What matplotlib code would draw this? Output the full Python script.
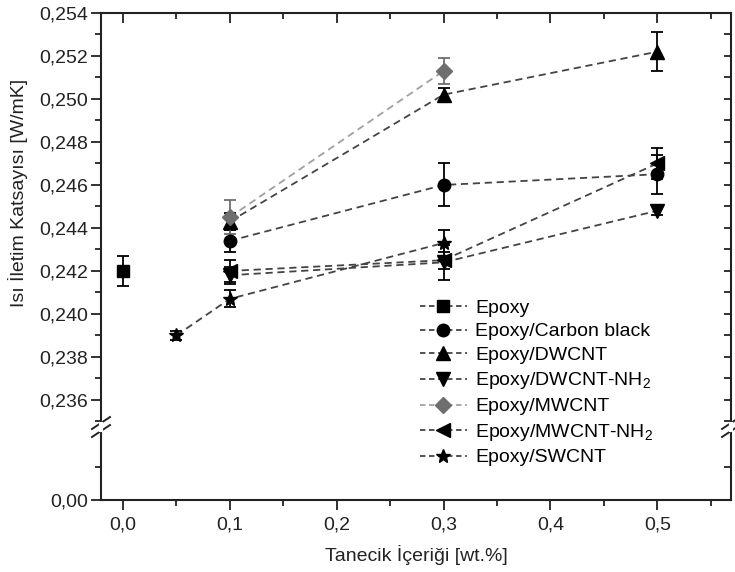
import matplotlib
matplotlib.use('Agg')
import matplotlib.pyplot as plt
from matplotlib.ticker import FixedLocator, FuncFormatter
from matplotlib.lines import Line2D

plt.rcParams['font.family'] = ['Liberation Sans', 'DejaVu Sans']
plt.rcParams['mathtext.fontset'] = 'custom'
plt.rcParams['mathtext.rm'] = 'Liberation Sans'

# ---- data ----
labels = ['Epoxy', 'Epoxy/Carbon black', 'Epoxy/DWCNT', 'Epoxy/DWCNT-NH$_\\mathregular{2}$',
          'Epoxy/MWCNT', 'Epoxy/MWCNT-NH$_\\mathregular{2}$', 'Epoxy/SWCNT']

x_epoxy = [0.0]
y_epoxy = [0.2420]
e_epoxy = [0.0007]

x_cb = [0.1, 0.3, 0.5]
y_cb = [0.2434, 0.2460, 0.2465]
e_cb = [0.0005, 0.0010, 0.0009]

x_dw = [0.1, 0.3, 0.5]
y_dw = [0.2443, 0.2502, 0.2522]
e_dw = [0.0004, 0.0003, 0.0009]

x_dwn = [0.1, 0.3, 0.5]
y_dwn = [0.2418, 0.2424, 0.2448]
e_dwn = [0.0004, 0.0008, 0.0002]

x_mw = [0.1, 0.3]
y_mw = [0.2445, 0.2513]
e_mw = [0.0008, 0.0006]

x_mwn = [0.1, 0.3, 0.5]
y_mwn = [0.2420, 0.2425, 0.2470]
e_mwn = [0.0005, 0.0004, 0.0007]

x_sw = [0.05, 0.1, 0.3]
y_sw = [0.2390, 0.2407, 0.2433]
e_sw = [0.0002, 0.0004, 0.0006]

xticks = [0.0, 0.1, 0.2, 0.3, 0.4, 0.5]
yticks_top = [0.236, 0.238, 0.240, 0.242, 0.244, 0.246, 0.248, 0.250, 0.252, 0.254]

series = [
    (x_epoxy, y_epoxy, e_epoxy, 's', 'black', '#444444', 8.5),
    (x_cb, y_cb, e_cb, 'o', 'black', '#444444', 9),
    (x_dw, y_dw, e_dw, '^', 'black', '#444444', 10),
    (x_dwn, y_dwn, e_dwn, 'v', 'black', '#444444', 10),
    (x_mw, y_mw, e_mw, 'D', '#6e6e6e', '#a0a0a0', 8),
    (x_mwn, y_mwn, e_mwn, '<', 'black', '#444444', 10),
    (x_sw, y_sw, e_sw, '*', 'black', '#444444', 10),
]

W, H = 735, 572
fig = plt.figure(figsize=(W / 100, H / 100), dpi=100)

left = 101 / W
width = (731 - 101) / W
top_px, brk_px, bot_px = 13, 427, 500
ax = fig.add_axes([left, (H - brk_px) / H, width, (brk_px - top_px) / H])
axb = fig.add_axes([left, (H - bot_px) / H, width, (bot_px - brk_px) / H])

xlim = (-0.0205, 0.569)
fs = 14

handles = []
for (xs, ys, es, m, mc, lc, ms), lab in zip(series, labels):
    ax.plot(xs, ys, linestyle=(0, (4, 2.6)), color=lc, lw=1.3, zorder=2)
    ax.errorbar(xs, ys, yerr=es, fmt='none', ecolor=mc, elinewidth=1.3,
                capsize=4.5, capthick=1.3, zorder=3)
    ax.plot(xs, ys, linestyle='none', marker=m, markersize=ms, color=mc,
            markeredgecolor=mc, zorder=4)
    handles.append(Line2D([], [], linestyle=(0, (3, 2)), color=lc, lw=1.3,
                          marker=m, markersize=ms, markerfacecolor=mc,
                          markeredgecolor=mc, label=lab))

ax.set_xlim(*xlim)
ax.set_ylim(0.23474, 0.254)
axb.set_xlim(*xlim)
axb.set_ylim(0, 1)

fmt = FuncFormatter(lambda v, p: ('%.3f' % v).replace('.', ','))
ax.yaxis.set_major_locator(FixedLocator(yticks_top))
ax.yaxis.set_minor_locator(FixedLocator([0.235 + 0.002 * i for i in range(10)]))
ax.yaxis.set_major_formatter(fmt)
axb.yaxis.set_major_locator(FixedLocator([0.0]))
axb.yaxis.set_minor_locator(FixedLocator([0.45]))
axb.yaxis.set_major_formatter(FuncFormatter(lambda v, p: '0,00'))

axb.xaxis.set_major_locator(FixedLocator(xticks))
axb.xaxis.set_minor_locator(FixedLocator([0.05, 0.15, 0.25, 0.35, 0.45, 0.55]))
axb.xaxis.set_major_formatter(FuncFormatter(lambda v, p: ('%.1f' % v).replace('.', ',')))
ax.xaxis.set_major_locator(FixedLocator(xticks))
ax.xaxis.set_minor_locator(FixedLocator([0.05, 0.15, 0.25, 0.35, 0.45, 0.55]))

for a in (ax, axb):
    for s in a.spines.values():
        s.set_linewidth(1.5)
        s.set_color('#222222')
ax.spines['bottom'].set_visible(False)
axb.spines['top'].set_visible(False)

# upper axes: left ticks out, right ticks in, top ticks in, no bottom ticks
ax.tick_params(axis='y', which='both', left=True, right=False, labelsize=fs,
               direction='out', width=1.3, colors='#222222')
ax.tick_params(axis='y', which='major', length=7, pad=2)
ax.tick_params(axis='y', which='minor', length=4.5)
ax.tick_params(axis='x', which='both', bottom=False, top=True, labelbottom=False,
               direction='in', width=1.3, colors='#222222')
ax.tick_params(axis='x', which='major', length=7)
ax.tick_params(axis='x', which='minor', length=4)

axb.tick_params(axis='y', which='both', left=True, labelsize=fs,
                direction='out', width=1.3, colors='#222222')
axb.tick_params(axis='y', which='major', length=7, pad=2)
axb.tick_params(axis='y', which='minor', length=4.5)
axb.tick_params(axis='x', which='both', bottom=True, top=False, labelsize=fs,
                direction='out', width=1.3, colors='#222222')
axb.tick_params(axis='x', which='major', length=7, pad=5)
axb.tick_params(axis='x', which='minor', length=4)

# right-side inward ticks via twin axes
axr = ax.twinx()
axr.set_ylim(ax.get_ylim())
axr.yaxis.set_major_locator(FixedLocator([0.235 + 0.001 * i for i in range(20)]))
axr.yaxis.set_minor_locator(FixedLocator([]))
axr.tick_params(axis='y', which='both', direction='in', length=5, width=1.3,
                labelright=False, colors='#222222')
for s in axr.spines.values():
    s.set_visible(False)
axbr = axb.twinx()
axbr.set_ylim(axb.get_ylim())
axbr.yaxis.set_major_locator(FixedLocator([0.45]))
axbr.tick_params(axis='y', which='both', direction='in', length=5, width=1.3,
                 labelright=False, colors='#222222')
for s in axbr.spines.values():
    s.set_visible(False)

# break marks
for xb in (101, 731):
    for dy in (-4, 4):
        yb = brk_px + dy
        fig.add_artist(Line2D([(xb - 9) / W, (xb + 9) / W],
                              [(H - yb - 6) / H, (H - yb + 6) / H],
                              color='#222222', lw=1.4))
    fig.add_artist(Line2D([xb / W, xb / W], [(H - brk_px - 3) / H, (H - brk_px + 3) / H],
                          color='white', lw=3))

ax.set_ylabel('Isı İletim Katsayısı [W/mK]', fontsize=fs, color='#222222')
ax.yaxis.set_label_coords(-0.116, 0.565)
axb.set_xlabel('Tanecik İçeriği [wt.%]', fontsize=fs, color='#222222', labelpad=8)

fig.legend(handles=handles, loc='upper left', bbox_to_anchor=(420 / W, 1 - 299 / H),
           frameon=False, fontsize=fs, handlelength=2.4, handletextpad=0.45,
           labelspacing=0.32, borderpad=0, borderaxespad=0, numpoints=1)

fig.savefig('out.png', dpi=100)
